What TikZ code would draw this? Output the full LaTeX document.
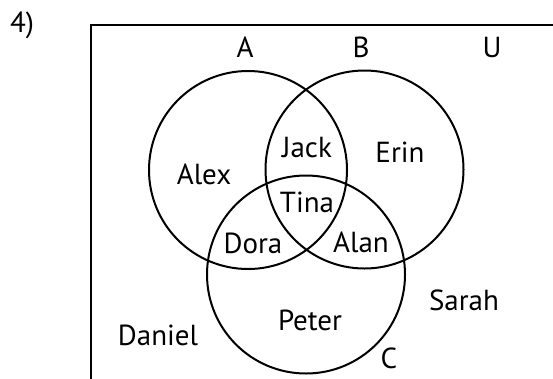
\documentclass[tikz,border=0pt]{standalone}
\usepackage{fontspec}
\setmainfont{PT Sans}
\begin{document}
\begin{tikzpicture}[x=1pt,y=-1pt,
  setc/.style={circle, draw, line width=2pt, minimum size=198pt, inner sep=0pt},
  lbl/.style={inner sep=0pt, font=\fontsize{29}{34}\selectfont},
  frm/.style={line width=2pt}]
\useasboundingbox (0,0) rectangle (553,378);
\node[setc] (A) at (248,170) {};
\node[setc] (B) at (364.5,169.5) {};
\node[setc] (C) at (306,274.5) {};
\coordinate (fb) at (91,380);
\coordinate (ft) at (91,25);
\coordinate (fr) at (555,25);
\draw[frm] (fb) -- (ft) -- (fr);
\node[lbl] (n4) at (22,25) {4)};
\node[lbl] (lA) at (245,47) {A};
\node[lbl] (lB) at (361,47) {B};
\node[lbl] (lU) at (492,47) {U};
\node[lbl] (lC) at (389,358) {C};
\node[lbl] (jack) at (307,148) {Jack};
\node[lbl] (erin) at (400,152) {Erin};
\node[lbl] (alex) at (204,174) {Alex};
\node[lbl] (tina) at (307,202) {Tina};
\node[lbl] (dora) at (253,243) {Dora};
\node[lbl] (alan) at (361,242) {Alan};
\node[lbl] (sarah) at (464,300) {Sarah};
\node[lbl] (peter) at (310,320) {Peter};
\node[lbl] (daniel) at (158,335) {Daniel};
\end{tikzpicture}
\end{document}
